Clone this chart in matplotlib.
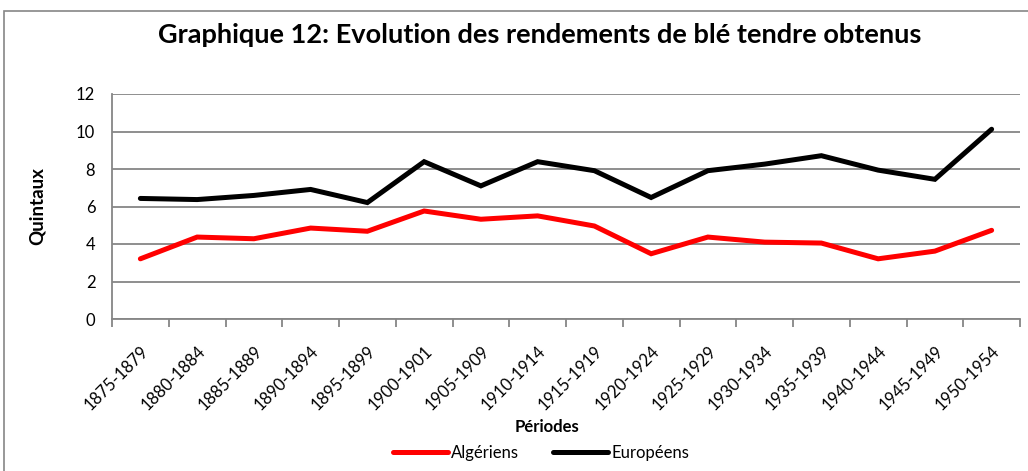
import matplotlib.pyplot as plt
from matplotlib.patches import Rectangle
from matplotlib.ticker import MultipleLocator, FixedLocator

plt.rcParams['font.family'] = ['Lato', 'DejaVu Sans']

periodes = ["1875-1879", "1880-1884", "1885-1889", "1890-1894", "1895-1899",
            "1900-1901", "1905-1909", "1910-1914", "1915-1919", "1920-1924",
            "1925-1929", "1930-1934", "1935-1939", "1940-1944", "1945-1949",
            "1950-1954"]
algeriens = [3.21, 4.37, 4.28, 4.85, 4.68, 5.76, 5.32, 5.50, 4.96, 3.48,
             4.37, 4.10, 4.05, 3.21, 3.62, 4.73]
europeens = [6.43, 6.37, 6.59, 6.91, 6.21, 8.39, 7.10, 8.39, 7.91, 6.48,
             7.91, 8.26, 8.71, 7.94, 7.45, 10.12]

GRID = "#868686"

fig = plt.figure(figsize=(10.28, 4.71), dpi=100)
fig.patches.append(Rectangle((4 / 1028, -0.01), 1.02, 1 - 11 / 471 + 0.01,
                             transform=fig.transFigure, fill=False,
                             edgecolor=GRID, linewidth=1.2))

ax = fig.add_axes([112 / 1028, 1 - 319 / 471, 908 / 1028, 225 / 471])
x = range(len(periodes))
ax.plot(x, algeriens, color="#ff0000", linewidth=3.6, label="Algériens",
        solid_capstyle="round", solid_joinstyle="miter")
ax.plot(x, europeens, color="black", linewidth=3.6, label="Européens",
        solid_capstyle="round", solid_joinstyle="miter")

ax.set_xlim(-0.5, len(periodes) - 0.5)
ax.set_ylim(0, 12)
ax.yaxis.set_major_locator(MultipleLocator(2))
ax.grid(axis="y", color=GRID, linewidth=1.3)
ax.set_axisbelow(True)
for s in ["top", "right"]:
    ax.spines[s].set_visible(False)
for s in ["left", "bottom"]:
    ax.spines[s].set_color(GRID)
    ax.spines[s].set_linewidth(1.3)

ax.set_xticks(list(x))
ax.set_xticklabels(periodes, rotation=45, ha="right", va="top",
                   rotation_mode="anchor", fontsize=12)
ax.tick_params(axis="x", which="major", length=0, pad=17)
ax.xaxis.set_minor_locator(FixedLocator([i - 0.5 for i in range(len(periodes) + 1)]))
ax.tick_params(axis="x", which="minor", length=6, color=GRID, width=1.3)
ax.tick_params(axis="y", length=0, labelsize=12, pad=12)

ax.set_ylabel("Quintaux", fontsize=13.5, fontweight="bold", labelpad=22)
ax.set_xlabel("Périodes", fontsize=12, fontweight="bold", va="center")
ax.xaxis.set_label_coords((547 - 112) / 908, (319 - 427) / 225)

fig.text(540 / 1028, 1 - 35 / 471, "Graphique 12: Evolution des rendements de blé tendre obtenus",
         ha="center", va="center", fontsize=19.5, fontweight="bold")

fig.legend(loc="center", bbox_to_anchor=(541 / 1028, 1 - 453 / 471), ncol=2,
           frameon=False, fontsize=12, handlelength=3.3, handletextpad=0.2,
           columnspacing=2.0)

fig.savefig("out.png", dpi=100)
